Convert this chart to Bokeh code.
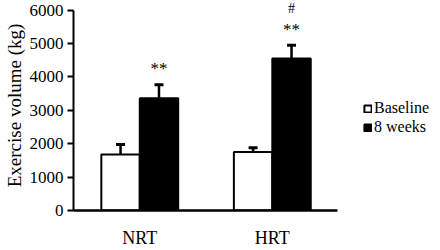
from bokeh.plotting import figure
from bokeh.models import (Range1d, FixedTicker, ColumnDataSource, Whisker, TeeHead,
                          Legend, LegendItem)
from bokeh.embed import file_html
from bokeh.resources import INLINE
from bokeh.core.properties import value

# ---- data ----
categories = ["NRT", "HRT"]
series_names = ["Baseline", "8 weeks"]
baseline_mean = [1680, 1750]
baseline_err = [300, 130]
week8_mean = [3360, 4550]
week8_err = [410, 400]
week8_stars = ["**", "**"]
week8_hash = ["", "#"]
y_ticks = [0, 1000, 2000, 3000, 4000, 5000, 6000]

FONT = "Liberation Serif"
BAR_W = 0.29
OFF = 0.145

cat_x = [i + 1 for i in range(len(categories))]

p = figure(width=440, height=250, output_backend="svg", toolbar_location=None,
           x_range=Range1d(0.5, 3.269), y_range=Range1d(0, 6290),
           min_border_left=69, min_border_right=0, min_border_top=0,
           min_border_bottom=33)
p.outline_line_color = None
p.grid.visible = False
p.background_fill_color = "white"

src_b = ColumnDataSource(dict(x=[c - OFF for c in cat_x], top=baseline_mean,
                              upper=[m + e for m, e in zip(baseline_mean, baseline_err)],
                              lower=baseline_mean))
src_w = ColumnDataSource(dict(x=[c + OFF for c in cat_x], top=week8_mean,
                              upper=[m + e for m, e in zip(week8_mean, week8_err)],
                              lower=week8_mean, stars=week8_stars, hash=week8_hash))

for src in (src_b, src_w):
    w = Whisker(source=src, base="x", upper="upper", lower="lower", dimension="height",
                line_color="black", line_width=2.5,
                upper_head=TeeHead(size=9, line_width=3, line_color="black"),
                lower_head=None)
    p.add_layout(w)

r_b = p.vbar(x="x", top="top", width=BAR_W, source=src_b, fill_color="white",
             line_color="black", line_width=2)
r_w = p.vbar(x="x", top="top", width=BAR_W, source=src_w, fill_color="black",
             line_color="black", line_width=2)

p.text(x="x", y="upper", text="stars", source=src_w, y_offset=-16,
       text_align="center", text_baseline="middle", text_font=value(FONT),
       text_font_size="17px", color="black", text_color="black", text_alpha=1.0)
p.text(x="x", y="upper", text="hash", source=src_w, y_offset=-37,
       text_align="center", text_baseline="middle", text_font=value(FONT),
       text_font_size="14px", color="black", text_color="black", text_alpha=1.0)

# axes
xa = p.xaxis[0]
xa.ticker = FixedTicker(ticks=cat_x)
xa.major_label_overrides = {c: n for c, n in zip(cat_x, categories)}
xa.bounds = (0.5, 2.49)
xa.axis_line_width = 2.5
xa.major_tick_line_color = None
xa.minor_tick_line_color = None
xa.major_label_standoff = 11
xa.major_label_text_font = FONT
xa.major_label_text_font_size = "18px"
xa.major_label_text_color = "black"

ya = p.yaxis[0]
ya.ticker = FixedTicker(ticks=y_ticks)
ya.bounds = (0, 6000)
ya.axis_line_width = 2
ya.major_tick_in = 0
ya.major_tick_out = 6
ya.major_tick_line_width = 2
ya.minor_tick_line_color = None
ya.major_label_standoff = 4
ya.major_label_text_font = FONT
ya.major_label_text_font_size = "17px"
ya.major_label_text_color = "black"
ya.axis_label = "Exercise volume (kg)"
ya.axis_label_text_font = FONT
ya.axis_label_text_font_size = "19px"
ya.axis_label_text_font_style = "normal"
ya.axis_label_text_color = "black"
ya.axis_label_standoff = 2


def make_legend(label, renderer, loc):
    lg = Legend(items=[LegendItem(label=label, renderers=[renderer])], location=loc)
    lg.border_line_color = None
    lg.background_fill_alpha = 0
    lg.padding = 0
    lg.margin = 0
    lg.glyph_width = 9
    lg.glyph_height = 9
    lg.label_standoff = 2
    lg.label_height = 14
    lg.label_text_font = FONT
    lg.label_text_font_size = "16px"
    lg.label_text_color = "black"
    return lg


p.add_layout(make_legend(series_names[0], r_b, (290, 93)))
p.add_layout(make_legend(series_names[1], r_w, (290, 74)))

open("out.html", "w").write(file_html(p, INLINE))
